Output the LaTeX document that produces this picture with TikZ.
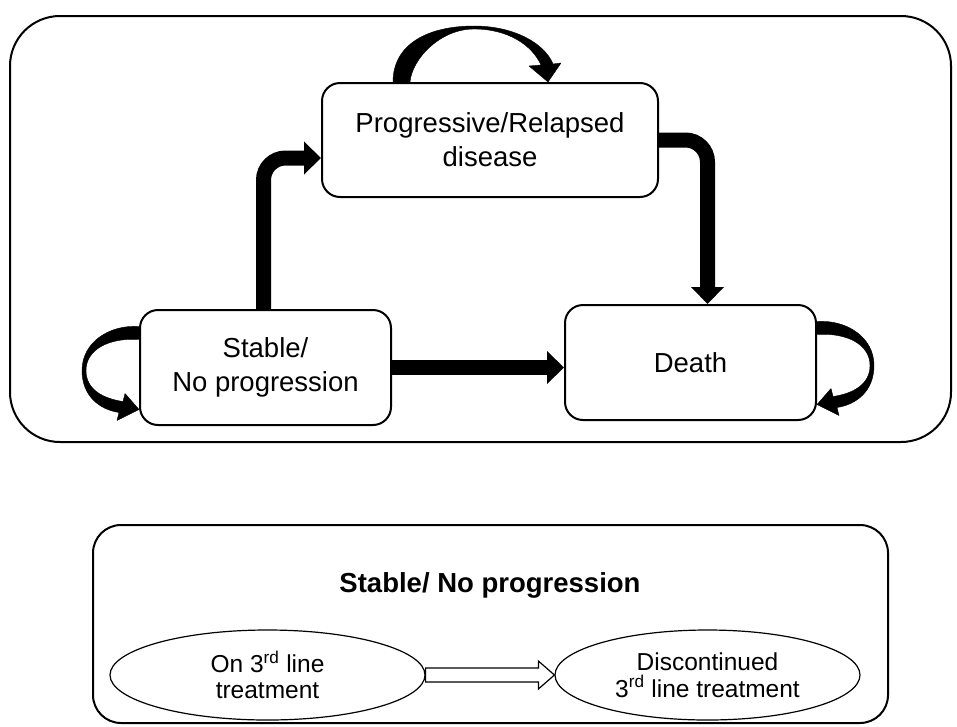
\documentclass[tikz,border=0pt]{standalone}
\usepackage{fontspec}
\setmainfont{Liberation Sans}
\usetikzlibrary{arrows.meta,shapes.geometric,calc}
\tikzset{
  statebox/.style={draw, line width=2pt, rounded corners=18pt, fill=white, align=center,
    inner sep=0pt, font=\fontsize{27.5}{34}\selectfont},
  frame/.style={draw, line width=2pt, inner sep=0pt},
  ellbox/.style={draw, line width=1.2pt, ellipse, inner sep=0pt, align=center,
    minimum height=90pt, font=\fontsize{24.5}{26.5}\selectfont},
  thickarr/.style={line width=15pt, rounded corners=22pt,
    -{Triangle[length=17pt,width=32pt]}},
  loopfill/.style={fill=black, draw=black, line width=0.4pt, line join=round},
  hollow/.style={draw=black, fill=white, line width=1.2pt, line join=miter}
}
\begin{document}
\begin{tikzpicture}[x=1pt,y=-1pt]
\useasboundingbox (0,0) rectangle (957,726);
% outer frames
\node[frame, rounded corners=50pt, minimum width=941pt, minimum height=426pt] (outer) at (480.5,229) {};
\node[frame, rounded corners=28pt, minimum width=795pt, minimum height=198pt] (sub) at (490.5,624) {};
% states
\node[statebox, minimum width=336pt, minimum height=114pt] (prog) at (490,140) {Progressive/Relapsed\\disease};
\node[statebox, minimum width=251pt, minimum height=115pt] (stable) at (265.5,367.5) {Stable/\\No progression};
\node[statebox, minimum width=251pt, minimum height=115pt] (death) at (690.5,362.5) {Death};
% transitions
\draw[thickarr] ([xshift=-2pt]stable.north) |- ([yshift=-18pt]prog.west);
\draw[thickarr] (prog.east) -| ([xshift=17pt]death.north);
\draw[thickarr] (stable.east) -- (stable.east -| death.west);
% self loop on stable (left side)
\begin{scope}[shift={(stable.west)}, xscale=-1]
\path[loopfill] (0,-41) .. controls (30,-43) and (57,-25) .. (57,3)
  .. controls (57,28) and (40,42) .. (20,45) -- (22,53) -- (0,42) -- (14,26) -- (16,34)
  .. controls (36,31) and (53,22) .. (53,3) .. controls (53,-18) and (30,-30) .. (0,-28) -- cycle;
\end{scope}
% self loop on death (right side)
\begin{scope}[shift={(death.east)}]
\path[loopfill] (0,-41) .. controls (30,-43) and (57,-25) .. (57,3)
  .. controls (57,28) and (40,42) .. (20,45) -- (22,53) -- (0,42) -- (14,26) -- (16,34)
  .. controls (36,31) and (53,22) .. (53,3) .. controls (53,-18) and (30,-30) .. (0,-28) -- cycle;
\end{scope}
% self loop on progressive (top)
\begin{scope}[shift={(prog.north)}]
\path[loopfill] (-97,0) .. controls (-97,-38) and (-62,-56) .. (-16,-56)
  .. controls (25,-56) and (55,-38) .. (63,-18) -- (71,-19) -- (58,0) -- (39,-16) -- (51,-17)
  .. controls (42,-37) and (18,-53) .. (-16,-53) .. controls (-50,-53) and (-78,-23) .. (-80,0) -- cycle;
\end{scope}
% lower panel
\node[font=\fontsize{27.5}{30}\selectfont\bfseries] (title) at (490,585) {Stable/ No progression};
\node[ellbox, minimum width=315pt] (on) at (267.5,675) {On 3\textsuperscript{rd} line\\treatment};
\node[ellbox, minimum width=305pt] (disc) at (707.5,675) {Discontinued\\3\textsuperscript{rd} line treatment};
\path (on.east) coordinate (h0) (disc.west) coordinate (h1);
\draw[hollow] ($(h0)+(0,-7)$) -- ($(h1)+(-16,-7)$) -- ($(h1)+(-16,-14)$) -- (h1)
  -- ($(h1)+(-16,14)$) -- ($(h1)+(-16,7)$) -- ($(h0)+(0,7)$) -- cycle;
\end{tikzpicture}
\end{document}
